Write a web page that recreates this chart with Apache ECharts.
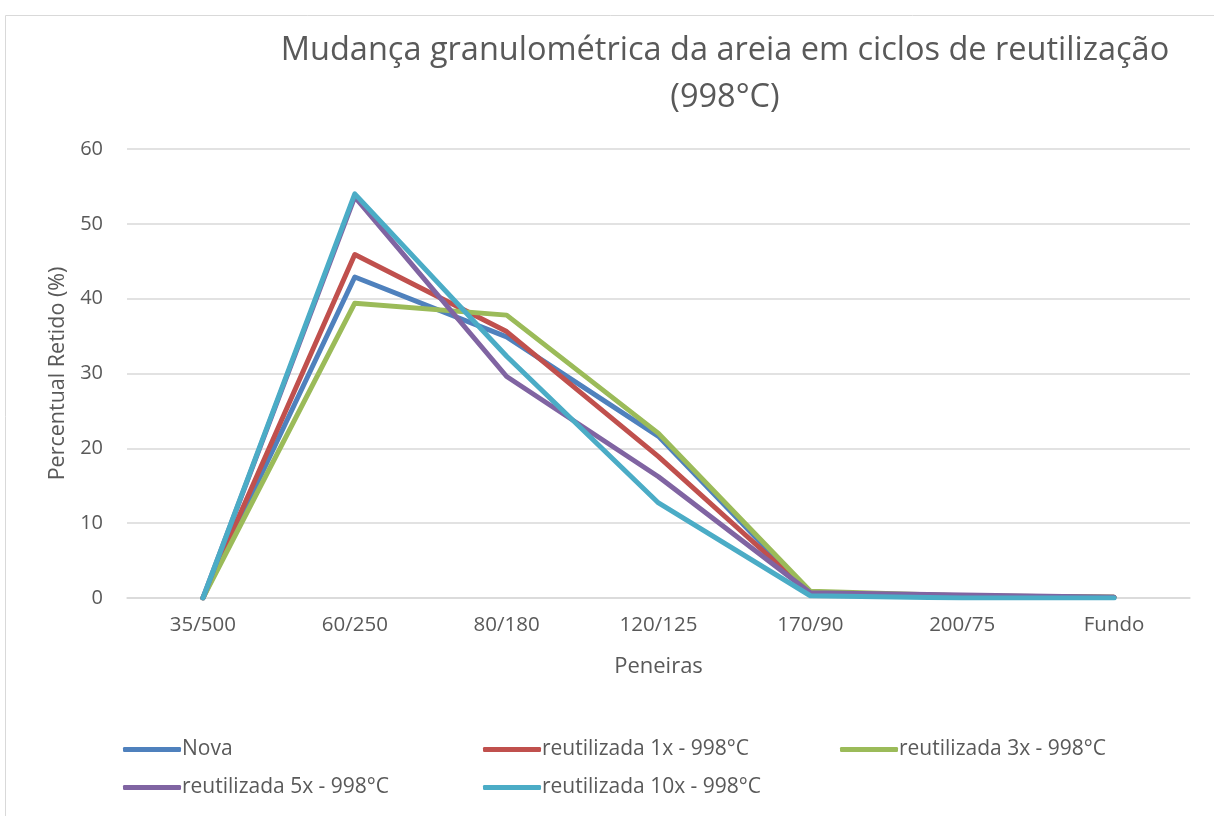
<!DOCTYPE html>
<html>
<head>
<meta charset="utf-8">
<script src="https://cdn.jsdelivr.net/npm/echarts@6/dist/echarts.min.js"></script>
<style>
  html, body { margin: 0; padding: 0; background: #fff; }
  #chart { width: 1214px; height: 816px; }
</style>
</head>
<body>
<div id="chart"></div>
<script>
const peneiras = ["35/500", "60/250", "80/180", "120/125", "170/90", "200/75", "Fundo"];

const nova = [0, 42.9, 34.9, 21.6, 0.5, 0.2, 0.1];
const reut1x = [0, 45.9, 35.6, 18.9, 0.6, 0.2, 0.1];
const reut3x = [0, 39.4, 37.8, 22.0, 0.9, 0.3, 0.1];
const reut5x = [0, 53.6, 29.6, 16.2, 0.7, 0.4, 0.1];
const reut10x = [0, 54.0, 32.3, 12.7, 0.3, 0.0, 0.0];

const seriesNames = [
  "Nova",
  "reutilizada 1x - 998°C",
  "reutilizada 3x - 998°C",
  "reutilizada 5x - 998°C",
  "reutilizada 10x - 998°C"
];
const seriesData = [nova, reut1x, reut3x, reut5x, reut10x];
const colors = ["#4F81BD", "#C0504D", "#9BBB59", "#8064A2", "#4BACC6"];

const font = "'Open Sans', 'Liberation Sans', sans-serif";
const textGray = "#595959";

// legend slots, like Excel's two-row layout
const legendPos = [
  { left: 118, top: 734 },
  { left: 478, top: 734 },
  { left: 835, top: 734 },
  { left: 118, top: 772 },
  { left: 478, top: 772 }
];

const chart = echarts.init(document.getElementById("chart"));

chart.setOption({
  animation: false,
  color: colors,
  title: {
    text: "Mudança granulométrica da areia em ciclos de reutilização\n(998°C)",
    left: 720,
    top: 22,
    textAlign: "center",
    textStyle: {
      fontFamily: font,
      fontSize: 32.5,
      fontWeight: "normal",
      color: textGray,
      lineHeight: 47
    }
  },
  graphic: [{
    type: "rect",
    shape: { x: 5.5, y: 15.5, width: 1230, height: 820 },
    style: { fill: "none", stroke: "#d9d9d9", lineWidth: 1 },
    silent: true
  }],
  legend: seriesNames.map((n, i) => ({
    data: [n],
    left: legendPos[i].left,
    top: legendPos[i].top,
    itemWidth: 58,
    itemHeight: 5,
    itemGap: 0,
    icon: "roundRect",
    textStyle: { fontFamily: font, fontSize: 21, color: textGray, padding: [0, 0, 0, -4] }
  })),
  grid: { left: 127, right: 24, top: 149, bottom: 218 },
  xAxis: {
    type: "category",
    data: peneiras,
    boundaryGap: true,
    name: "Peneiras",
    nameLocation: "middle",
    nameGap: 58,
    nameTextStyle: { fontFamily: font, fontSize: 22, color: textGray },
    axisLine: { lineStyle: { color: "#d9d9d9", width: 1.5 } },
    axisTick: { show: false },
    axisLabel: { fontFamily: font, fontSize: 20.5, color: textGray, margin: 17 }
  },
  yAxis: {
    type: "value",
    min: 0,
    max: 60,
    interval: 10,
    name: "Percentual Retido (%)",
    nameLocation: "middle",
    nameGap: 57,
    nameTextStyle: { fontFamily: font, fontSize: 21.5, color: textGray },
    axisLine: { show: false },
    axisTick: { show: false },
    axisLabel: { fontFamily: font, fontSize: 20, color: textGray, margin: 24 },
    splitLine: { lineStyle: { color: "#d9d9d9", width: 1.5 } }
  },
  series: seriesNames.map((n, i) => ({
    name: n,
    type: "line",
    data: seriesData[i],
    showSymbol: false,
    symbol: "none",
    lineStyle: { width: 5, color: colors[i], cap: "round", join: "round" },
    z: 2 + i
  }))
});
</script>
</body>
</html>
